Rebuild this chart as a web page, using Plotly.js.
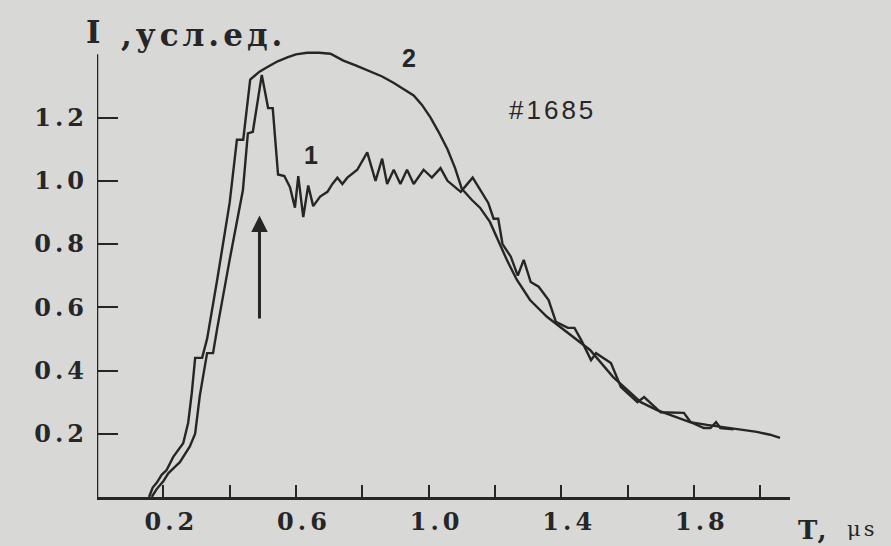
<!DOCTYPE html>
<html><head><meta charset="utf-8">
<script src="https://cdn.plot.ly/plotly-3.0.1.min.js"></script>
<style>
html,body{margin:0;padding:0;background:#d8d8d6;}
.ytick text{letter-spacing:4px;}
.xtick text{letter-spacing:4px;}
.annotation-text{letter-spacing:3px;}
.annotation[data-index="1"] .annotation-text{letter-spacing:4px;}
</style>
</head><body>
<div id="chart" style="width:891px;height:546px;"></div>
<script>
// Curve 1 (noisy signal)
const t1 = [0.165,0.18,0.20,0.215,0.235,0.25,0.28,0.296,0.31,0.332,0.35,0.362,0.40,0.431,0.44,0.455,0.47,0.497,0.516,0.53,0.546,0.565,0.582,0.597,0.607,0.622,0.637,0.652,0.673,0.695,0.71,0.725,0.74,0.755,0.785,0.815,0.84,0.86,0.875,0.895,0.915,0.935,0.955,0.985,1.01,1.036,1.057,1.097,1.133,1.18,1.196,1.21,1.223,1.248,1.269,1.287,1.308,1.332,1.362,1.384,1.42,1.44,1.46,1.49,1.505,1.55,1.58,1.63,1.65,1.70,1.77,1.79,1.83,1.85,1.867,1.88,1.92];
const i1 = [0.0,0.025,0.05,0.075,0.095,0.11,0.16,0.20,0.32,0.455,0.455,0.53,0.75,0.93,0.97,1.15,1.155,1.335,1.23,1.23,1.02,1.015,0.98,0.915,1.015,0.885,0.985,0.92,0.95,0.965,0.99,1.01,0.99,1.01,1.035,1.09,1.0,1.07,0.99,1.035,0.99,1.035,0.99,1.035,1.01,1.04,1.0,0.965,1.01,0.93,0.88,0.88,0.80,0.76,0.70,0.75,0.68,0.665,0.623,0.554,0.535,0.535,0.497,0.433,0.455,0.424,0.348,0.30,0.316,0.268,0.266,0.237,0.218,0.218,0.237,0.218,0.214];
// Curve 2 (smooth envelope)
const t2 = [0.157,0.168,0.18,0.195,0.21,0.23,0.26,0.275,0.286,0.296,0.317,0.332,0.363,0.40,0.422,0.441,0.462,0.49,0.514,0.545,0.574,0.60,0.634,0.67,0.704,0.743,0.78,0.825,0.86,0.894,0.925,0.955,0.98,1.006,1.03,1.057,1.08,1.10,1.13,1.155,1.185,1.209,1.236,1.266,1.306,1.357,1.417,1.487,1.556,1.598,1.64,1.689,1.74,1.788,1.84,1.888,1.94,1.99,2.03,2.06];
const i2 = [0.0,0.03,0.045,0.07,0.085,0.127,0.17,0.235,0.33,0.44,0.44,0.50,0.69,0.93,1.13,1.13,1.32,1.345,1.36,1.378,1.39,1.40,1.405,1.405,1.402,1.38,1.365,1.345,1.33,1.31,1.29,1.27,1.24,1.20,1.155,1.10,1.04,0.975,0.94,0.915,0.87,0.813,0.75,0.687,0.623,0.57,0.522,0.465,0.38,0.339,0.30,0.275,0.255,0.237,0.228,0.221,0.213,0.206,0.197,0.187];
const xTickVals = [0.2,0.4,0.6,0.8,1.0,1.2,1.4,1.6,1.8,2.0];
const xTickText = ['0.2','','0.6','','1.0','','1.4','','1.8',''];
const yTickVals = [0.2,0.4,0.6,0.8,1.0,1.2];
const yTickText = ['0.2','0.4','0.6','0.8','1.0','1.2'];

const ink = '#262626';
const lineStyle = {color: ink, width: 2.4};
const traces = [
  {x: t1, y: i1, mode: 'lines', line: lineStyle, name: '1', hoverinfo: 'skip'},
  {x: t2, y: i2, mode: 'lines', line: lineStyle, name: '2', hoverinfo: 'skip'}
];
const tickFont = {family: 'DejaVu Serif', size: 24, color: ink, weight: 'bold'};
const layout = {
  width: 891, height: 546,
  paper_bgcolor: '#d8d8d6', plot_bgcolor: '#d8d8d6',
  margin: {l: 97, r: 101, t: 48, b: 49},
  showlegend: false,
  xaxis: {range: [0, 2.09], showgrid: false, zeroline: false, showline: true, linecolor: ink, linewidth: 2.5,
    ticks: 'inside', ticklen: 12, tickwidth: 2, tickcolor: ink, tickmode: 'array', tickvals: xTickVals, ticktext: xTickText,
    tickfont: tickFont, ticklabelstandoff: 2, ticklabelshift: 8},
  yaxis: {range: [0, 1.42], showgrid: false, zeroline: false, showline: false,
    ticks: 'inside', ticklen: 21, tickwidth: 2, tickcolor: ink, tickmode: 'array', tickvals: yTickVals, ticktext: yTickText,
    tickfont: tickFont, ticklabelstandoff: 8},
  shapes: [
    {type: 'line', xref: 'x', yref: 'y', x0: 0, x1: 0, y0: 0, y1: 1.40, line: {color: ink, width: 2.5}}
  ],
  annotations: [
    {xref: 'paper', yref: 'paper', x: -0.019, y: 1.036, xanchor: 'left', yanchor: 'middle', showarrow: false,
     text: '<b>I</b>', font: {family: 'DejaVu Serif', size: 31, color: ink}},
    {xref: 'paper', yref: 'paper', x: 0.038, y: 1.030, xanchor: 'left', yanchor: 'middle', showarrow: false,
     text: '<b>,усл.ед.</b>', font: {family: 'DejaVu Serif', size: 31, color: ink}},
    {xref: 'paper', yref: 'paper', x: 1.008, y: -0.074, xanchor: 'left', yanchor: 'middle', showarrow: false,
     text: '<b>T,</b>', font: {family: 'DejaVu Serif', size: 26, color: ink}},
    {xref: 'paper', yref: 'paper', x: 1.080, y: -0.072, xanchor: 'left', yanchor: 'middle', showarrow: false,
     text: 'μs', font: {family: 'DejaVu Serif', size: 21, color: ink}},
    {xref: 'x', yref: 'y', x: 0.649, y: 1.082, showarrow: false, text: '1',
     font: {family: 'Liberation Sans', size: 25, color: ink, weight: 'bold'}},
    {xref: 'x', yref: 'y', x: 0.944, y: 1.389, showarrow: false, text: '2',
     font: {family: 'Liberation Sans', size: 25, color: ink, weight: 'bold'}},
    {xref: 'x', yref: 'y', x: 1.375, y: 1.225, showarrow: false, text: '#1685',
     font: {family: 'Liberation Sans', size: 26, color: ink}},
    {xref: 'x', yref: 'y', x: 0.49, y: 0.89, axref: 'x', ayref: 'y', ax: 0.49, ay: 0.56,
     showarrow: true, arrowhead: 2, arrowsize: 1.1, arrowwidth: 3, arrowcolor: ink, text: ''}
  ]
};
Plotly.newPlot('chart', traces, layout, {staticPlot: true, displayModeBar: false});
</script>
</body></html>
